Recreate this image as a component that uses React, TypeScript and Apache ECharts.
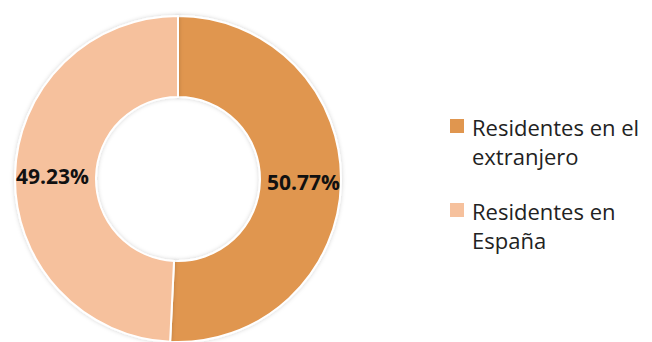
import React, { useEffect, useRef } from "react";
import * as echarts from "echarts";

const categories = ["Residentes en el extranjero", "Residentes en España"];
const legendLabels = ["Residentes en el\nextranjero", "Residentes en\nEspaña"];
const values = [50.77, 49.23];
const colors = ["#E0964F", "#F6C19D"];

export default function App() {
  const ref = useRef<HTMLDivElement>(null);
  useEffect(() => {
    document.body.style.margin = "0";
    const chart = echarts.init(ref.current!, null, { renderer: "svg" });
    const legendTop = 119;
    const legendStep = 84;
    const graphic: any[] = [];
    legendLabels.forEach((lab, i) => {
      const y0 = legendTop + i * legendStep;
      graphic.push({
        type: "rect",
        left: 450,
        top: y0,
        shape: { width: 14, height: 14 },
        style: { fill: colors[i] },
      });
      graphic.push({
        type: "text",
        x: 472,
        y: y0 + 22,
        style: {
          text: lab,
          fontFamily: "Open Sans",
          fontSize: 22,
          lineHeight: 29,
          fill: "#222222",
          align: "left",
          verticalAlign: "middle",
        },
      });
    });
    chart.setOption({
      animation: false,
      backgroundColor: "#ffffff",
      graphic,
      series: [
        {
          type: "pie",
          center: [178, 179],
          radius: [82, 163],
          startAngle: 90,
          clockwise: true,
          data: categories.map((c, i) => ({
            name: c,
            value: values[i],
            itemStyle: { color: colors[i] },
          })),
          itemStyle: {
            borderColor: "#ffffff",
            borderWidth: 2,
            shadowBlur: 4,
            shadowColor: "rgba(0,0,0,0.18)",
          },
          label: {
            show: true,
            position: "inside",
            formatter: (p: any) => p.value.toFixed(2) + "%",
            fontFamily: "Open Sans",
            fontWeight: "bold",
            fontSize: 21,
            color: "#111111",
            padding: [8, 0, 0, 0],
          },
          labelLine: { show: false },
          emphasis: { disabled: true },
        },
      ],
    });
    return () => chart.dispose();
  }, []);
  return (
    <div
      ref={ref}
      style={{ position: "absolute", left: 0, top: 0, width: 652, height: 342 }}
    />
  );
}
